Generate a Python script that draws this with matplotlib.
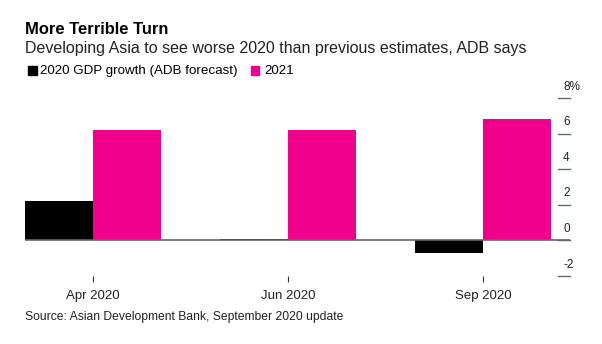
import matplotlib
matplotlib.use('Agg')
import matplotlib.pyplot as plt
import matplotlib.transforms as mtransforms
import numpy as np

plt.rcParams['font.family'] = ['Liberation Sans', 'DejaVu Sans']

# ---- data --------------------------------------------------------------------
releases = ['Apr 2020', 'Jun 2020', 'Sep 2020']
gdp_2020 = [2.2, 0.1, -0.7]
gdp_2021 = [6.2, 6.2, 6.8]
y_ticks = [-2, 0, 2, 4, 6, 8]
y_labels = ['-2', '0', '2', '4', '6', '8%']

BLACK = '#000000'
PINK = '#F0008C'
GRAY = '#666666'

# ---- figure ------------------------------------------------------------------
fig = plt.figure(figsize=(6.02, 3.44), dpi=100)
ax = fig.add_axes([25 / 602, 1 - 276 / 344, 545 / 602, 178 / 344])

x = np.arange(len(releases))
w = 68 / 195
ax.bar(x - w / 2, gdp_2020, width=w, color=BLACK, zorder=2)
ax.bar(x + w / 2, gdp_2021, width=w, color=PINK, zorder=2)
ax.axhline(0, color=GRAY, lw=1.2, zorder=3)

ax.set_xlim(-w, 2 + 87 / 195)
ax.set_ylim(-2, 8)
for s in ax.spines.values():
    s.set_visible(False)

ax.set_xticks(x)
ax.set_xticklabels(releases, fontsize=9.5, color='#222222')
ax.tick_params(axis='x', length=4, width=0.8, color='#333333', pad=6)
ax.set_yticks([])

# right-hand tick lines with labels sitting above them
trans = mtransforms.blended_transform_factory(ax.transAxes, ax.transData)
for v, lab in zip(y_ticks, y_labels):
    ax.plot([1 - 12 / 545, 1], [v, v], color=GRAY, lw=1, transform=trans,
            clip_on=False)
    ax.text(1 - 7 / 545, v + 0.3, lab, transform=trans, ha='left',
            va='bottom', fontsize=8.5, color='#222222')

# ---- titles, legend, source ----------------------------------------------------
fig.text(25 / 602, 1 - 29 / 344, 'More Terrible Turn', fontsize=11.9,
         fontweight='bold', va='center', ha='left')
fig.text(25 / 602, 1 - 48 / 344,
         'Developing Asia to see worse 2020 than previous estimates, ADB says',
         fontsize=11.55, va='center', ha='left', color='#222222')

fig.patches.append(plt.Rectangle((28 / 602, 1 - 75 / 344), 8.5 / 602, 8.5 / 344,
                                 color=BLACK, transform=fig.transFigure))
fig.text(40.5 / 602, 1 - 71 / 344, '2020 GDP growth (ADB forecast)',
         fontsize=9.6, va='center', ha='left')
fig.patches.append(plt.Rectangle((250.5 / 602, 1 - 75 / 344), 8.5 / 602, 8.5 / 344,
                                 color=PINK, transform=fig.transFigure))
fig.text(264 / 602, 1 - 71 / 344, '2021', fontsize=9.6, va='center', ha='left')

fig.text(25 / 602, 1 - 317 / 344,
         'Source: Asian Development Bank, September 2020 update',
         fontsize=8.7, va='center', ha='left', color='#222222')

fig.savefig('out.png', dpi=100)
